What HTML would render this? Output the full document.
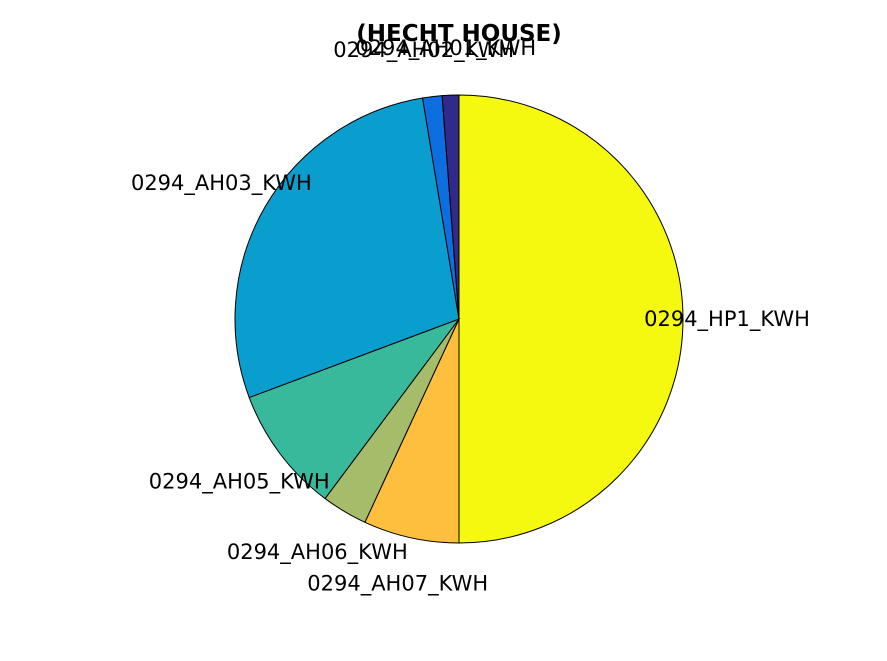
<!DOCTYPE html>
<html><head><meta charset="utf-8"><style>
html,body{margin:0;padding:0;background:#fff;}
svg{display:block;font-family:"DejaVu Sans","Liberation Sans",sans-serif;}
</style></head><body>
<svg id="chart" width="887" height="661">
<rect width="887" height="661" fill="#fff"/>
<text x="459" y="41" text-anchor="middle" font-size="23" font-weight="bold">(HECHT HOUSE)</text>
<g id="slices"></g><g id="labels"></g>
</svg>
<script>
const categories = ["0294_HP1_KWH","0294_AH07_KWH","0294_AH06_KWH","0294_AH05_KWH","0294_AH03_KWH","0294_AH02_KWH","0294_AH01_KWH"];
const values = [50.0, 6.9, 3.3, 9.1, 28.1, 1.4, 1.2];
const colors = ["#f5f90f","#fdbf3d","#a5bd6a","#38b99c","#099ece","#0d6ee0","#312a8a"];
const cx=459, cy=319, R=224;
const NS="http://www.w3.org/2000/svg";
const total=values.reduce((a,b)=>a+b,0);
const gS=document.getElementById('slices'), gL=document.getElementById('labels');
function pt(a,r){return [cx+r*Math.sin(a), cy-r*Math.cos(a)];}
let cum=0;
values.forEach((v,i)=>{
  const a0=cum/total*2*Math.PI, a1=(cum+v)/total*2*Math.PI; cum+=v;
  const p0=pt(a0,R), p1=pt(a1,R), large=(a1-a0)>Math.PI?1:0;
  const p=document.createElementNS(NS,'path');
  p.setAttribute('d',`M${cx},${cy} L${p0[0]},${p0[1]} A${R},${R} 0 ${large} 1 ${p1[0]},${p1[1]} Z`);
  p.setAttribute('fill',colors[i]); p.setAttribute('stroke','#000'); p.setAttribute('stroke-width','1');
  
  
  gS.appendChild(p);
  const m=(a0+a1)/2, lp=pt(m,R*1.21);
  const t=document.createElementNS(NS,'text');
  t.setAttribute('x',lp[0]-3); t.setAttribute('y',lp[1]+7);
  t.setAttribute('text-anchor','middle'); t.setAttribute('font-size','21');
  t.textContent=categories[i];
  
  
  gL.appendChild(t);
});
</script>
</body></html>
